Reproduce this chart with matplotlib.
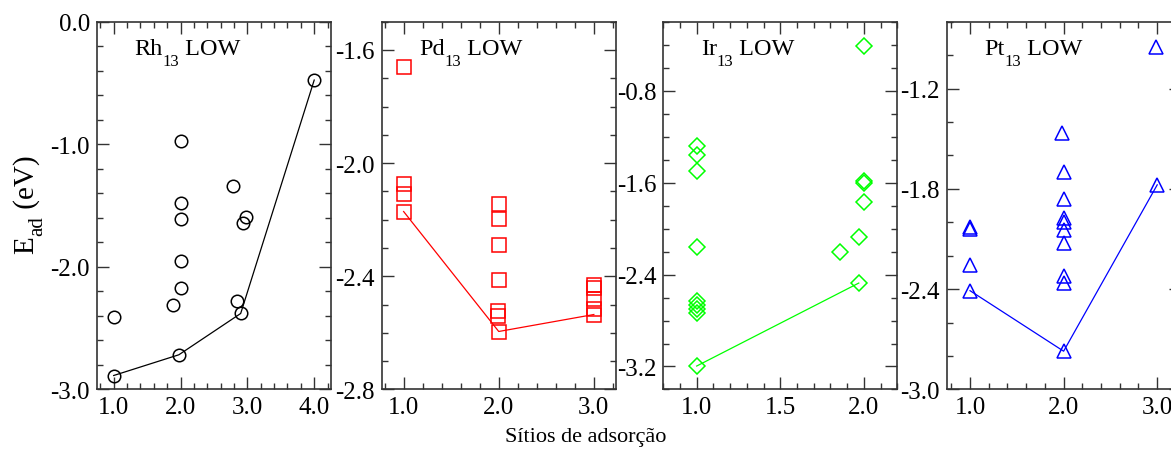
import matplotlib
matplotlib.use('Agg')
import matplotlib.pyplot as plt
import matplotlib.transforms as mtransforms
from matplotlib.ticker import MultipleLocator, FormatStrFormatter

plt.rcParams['font.family'] = ['Liberation Serif', 'DejaVu Serif']
plt.rcParams['axes.unicode_minus'] = False

# Rh13 LOW
rh_x = [1.0, 1.0, 1.975, 2.005, 2.78, 2.0, 2.0, 2.0, 2.0, 1.89, 2.84, 2.90, 2.98, 2.94, 4.0]
rh_y = [-2.41, -2.886, -2.717, -0.976, -1.337, -1.481, -1.609, -1.948, -2.171, -2.31, -2.28, -2.38, -1.59, -1.644, -0.476]
rh_line_x = [1.0, 1.975, 2.90, 4.0]
rh_line_y = [-2.886, -2.717, -2.38, -0.476]

# Pd13 LOW
pd_x = [1.0, 1.0, 1.0, 1.0, 2.0, 2.0, 2.0, 2.0, 1.99, 1.99, 2.0, 3.0, 3.0, 3.0, 3.0, 3.0]
pd_y = [-1.659, -2.074, -2.109, -2.171, -2.145, -2.196, -2.290, -2.413, -2.522, -2.540, -2.598,
        -2.432, -2.440, -2.480, -2.515, -2.535]
pd_line_x = [1.0, 2.0, 3.0]
pd_line_y = [-2.171, -2.595, -2.535]

# Ir13 LOW
ir_x = [2.0, 1.0, 1.0, 1.0, 1.0, 1.0, 1.0, 1.0, 1.0, 1.0, 2.0, 2.0, 2.0, 1.97, 1.856, 1.97]
ir_y = [-0.410, -1.279, -1.357, -1.501, -2.156, -2.627, -2.662, -2.699, -2.733, -3.196,
        -1.588, -1.600, -1.770, -2.07, -2.200, -2.474]
ir_line_x = [1.0, 1.97]
ir_line_y = [-3.196, -2.474]

# Pt13 LOW
pt_x = [1.0, 1.0, 1.0, 1.0, 1.98, 2.0, 2.0, 2.0, 2.0, 2.0, 2.0, 2.0, 2.0, 2.0, 2.99, 3.0]
pt_y = [-2.03, -2.04, -2.254, -2.409, -1.468, -1.697, -1.860, -1.976, -2.000, -2.045, -2.121,
        -2.324, -2.363, -2.771, -0.951, -1.776]
pt_line_x = [1.0, 2.0, 3.0]
pt_line_y = [-2.409, -2.771, -1.776]

panels = [
    ('Rh', rh_x, rh_y, rh_line_x, rh_line_y, 'black', 'o', 9,
     (0.75, 4.25), (-3.0, 0.0), 1.0, 0.2, 1.0, 0.2),
    ('Pd', pd_x, pd_y, pd_line_x, pd_line_y, '#ff0000', 's', 10,
     (0.77, 3.23), (-2.8, -1.5), 1.0, 0.2, 0.4, 0.1),
    ('Ir', ir_x, ir_y, ir_line_x, ir_line_y, '#00ff00', 'D', 8,
     (0.8, 2.2), (-3.4, -0.2), 0.5, 0.1, 0.8, 0.2),
    ('Pt', pt_x, pt_y, pt_line_x, pt_line_y, '#0000ff', '^', 10.5,
     (0.75, 3.25), (-3.0, -0.8), 1.0, 0.2, 0.6, 0.2),
]

lefts = [0.0828, 0.3260, 0.5664, 0.8084]

fig = plt.figure(figsize=(11.71, 4.52), dpi=100)
renderer = fig.canvas.get_renderer()


def pieces(x, y, parts, base, rotated=False):
    # draw text made of pieces (text, size, drop) one after another
    adv = 0.0
    for s, size, drop in parts:
        if rotated:
            tr = mtransforms.offset_copy(base, fig=fig, x=drop, y=adv, units='dots')
            t = fig.text(x, y, s, transform=tr, fontsize=size, rotation=90,
                         rotation_mode='anchor', ha='left', va='baseline')
            adv += t.get_window_extent(renderer).height
        else:
            tr = mtransforms.offset_copy(base, fig=fig, x=adv, y=-drop, units='dots')
            t = fig.text(x, y, s, transform=tr, fontsize=size,
                         ha='left', va='baseline')
            adv += t.get_window_extent(renderer).width


for left, p in zip(lefts, panels):
    name, xs, ys, lx, ly, color, marker, ms, xlim, ylim, xmaj, xmin, ymaj, ymin = p
    ax = fig.add_axes([left, 0.1361, 0.1998, 0.8137])
    ax.plot(lx, ly, color=color, lw=0.9)
    ax.plot(xs, ys, linestyle='none', marker=marker, ms=ms, mfc='none',
            mec=color, mew=1.1)
    ax.set_xlim(*xlim)
    ax.set_ylim(*ylim)
    ax.xaxis.set_major_locator(MultipleLocator(xmaj))
    ax.xaxis.set_minor_locator(MultipleLocator(xmin))
    ax.yaxis.set_major_locator(MultipleLocator(ymaj))
    ax.yaxis.set_minor_locator(MultipleLocator(ymin))
    ax.xaxis.set_major_formatter(FormatStrFormatter('%.1f'))
    ax.yaxis.set_major_formatter(FormatStrFormatter('%.1f'))
    ax.tick_params(which='both', direction='in', top=True, right=True,
                   width=1.0, color='#333333', labelsize=18)
    ax.tick_params(which='major', length=8.5, pad=5)
    ax.tick_params(which='minor', length=4.3)
    for s in ax.spines.values():
        s.set_linewidth(1.2)
        s.set_color('#333333')
    tx = left + 0.16 * 0.1998
    ty = 0.1361 + 0.912 * 0.8137
    pieces(tx, ty, [(name, 17.5, 0), ('13', 12, 11), (' LOW', 17.5, 0)], fig.transFigure)

# y label  E_ad (eV)
pieces(0.0285, 0.438, [('E', 21, 0), ('ad', 15, 9), (' (eV)', 21, 0)],
       fig.transFigure, rotated=True)

fig.text(0.5, 0.033, 'Sítios de adsorção', ha='center', va='center', fontsize=16)

fig.savefig('out.png', dpi=100)
